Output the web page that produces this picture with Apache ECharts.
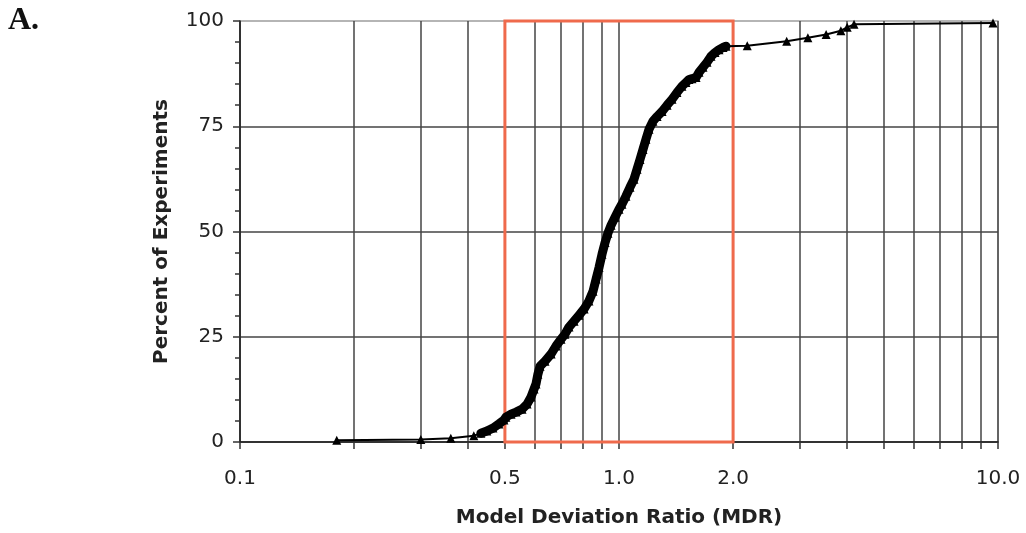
<!DOCTYPE html>
<html>
<head>
<meta charset="utf-8">
<script src="https://cdn.jsdelivr.net/npm/echarts@6/dist/echarts.min.js"></script>
<style>html,body{margin:0;padding:0;background:#fff}#c{width:1026px;height:533px}</style>
</head>
<body>
<div id="c"></div>
<script>
// Left tail (sparse triangles)
const leftMdr = [0.18, 0.30, 0.36, 0.414];
const leftPct = [0.4, 0.6, 0.9, 1.5];
// Dense core of the cumulative curve
const coreMdr = [0.432,0.448,0.465,0.482,0.497,0.503,0.519,0.535,0.555,0.572,0.586,0.597,0.604,0.611,0.619,0.638,0.662,0.682,0.703,0.720,0.738,0.761,0.784,0.809,0.833,0.854,0.870,0.886,0.902,0.919,0.935,0.953,0.976,1.000,1.018,1.043,1.069,1.095,1.116,1.136,1.157,1.178,1.200,1.229,1.260,1.299,1.339,1.380,1.422,1.466,1.502,1.530,1.558,1.597,1.626,1.666,1.707,1.749,1.792,1.836,1.881,1.916];
const corePct = [2.1,2.6,3.3,4.3,5.2,5.9,6.6,7.1,7.8,9.0,10.7,12.6,13.8,16.1,18.0,19.2,20.9,22.8,24.4,25.6,27.3,28.7,30.1,31.6,33.5,35.8,38.7,41.5,44.6,47.4,49.6,51.5,53.4,55.3,56.5,58.4,60.5,62.4,64.8,67.1,69.5,71.9,74.3,76.2,77.3,78.5,80.0,81.4,83.0,84.5,85.4,86.1,86.3,86.6,87.8,89.0,90.2,91.6,92.5,93.2,93.7,94.0];
// Right tail (sparse triangles)
const rightMdr = [2.18, 2.77, 3.15, 3.52, 3.85, 4.0, 4.17, 9.7];
const rightPct = [94.1, 95.2, 96.0, 96.8, 97.7, 98.5, 99.2, 99.5];

const xTickValues = [0.1,0.2,0.3,0.4,0.5,0.6,0.7,0.8,0.9,1,2,3,4,5,6,7,8,9,10];
const xLabelValues = [0.1,0.5,1,2,10];
const boxRange = {x: [0.5, 2.0], y: [0, 100]};

const pair = (xs, ys) => xs.map((x, i) => [x, ys[i]]);
const allData = pair(leftMdr, leftPct).concat(pair(coreMdr, corePct), pair(rightMdr, rightPct));
const coreData = pair(coreMdr, corePct);

const FONT = 'DejaVu Sans';
const chart = echarts.init(document.getElementById('c'));
chart.setOption({
  animation: false,
  backgroundColor: '#fff',
  title: {
    text: 'A.', left: 3, top: 0,
    textStyle: {fontFamily: 'Liberation Serif', fontWeight: 'bold', fontSize: 32, color: '#111'}
  },
  grid: {left: 240, right: 28, top: 21, bottom: 90, show: true, borderColor: '#b0b0b0', borderWidth: 1.5},
  xAxis: {
    type: 'log', logBase: 10, min: 0.1, max: 10,
    name: 'Model Deviation Ratio (MDR)', nameLocation: 'middle', nameGap: 66,
    nameTextStyle: {fontFamily: FONT, fontWeight: 'bold', fontSize: 20, color: '#222'},
    axisLine: {show: true, lineStyle: {color: '#222', width: 1.5}},
    axisTick: {show: true, length: 7, customValues: xTickValues, lineStyle: {color: '#333', width: 1.5}},
    axisLabel: {
      customValues: xLabelValues, margin: 27,
      fontFamily: FONT, fontSize: 20, color: '#222',
      formatter: v => Number(v).toFixed(1)
    },
    splitLine: {show: true, lineStyle: {color: '#444', width: 1.5}},
    minorTick: {show: false}, minorSplitLine: {show: false}
  },
  yAxis: {
    type: 'value', min: 0, max: 100, interval: 25,
    name: 'Percent of Experiments', nameLocation: 'middle', nameGap: 68, nameRotate: 90,
    nameTextStyle: {fontFamily: FONT, fontWeight: 'bold', fontSize: 20, color: '#222'},
    axisLine: {show: true, lineStyle: {color: '#222', width: 1.5}},
    axisTick: {show: true, length: 7, lineStyle: {color: '#333', width: 1.5}},
    minorTick: {show: true, splitNumber: 5, length: 5, lineStyle: {color: '#333', width: 1.5}},
    axisLabel: {margin: 16, fontFamily: FONT, fontSize: 20, color: '#222'},
    splitLine: {show: true, lineStyle: {color: ['#444', '#444', '#444', '#444', '#b0b0b0'], width: 1.5}}
  },
  series: [
    {
      type: 'line', data: allData, symbol: 'triangle', symbolSize: 9,
      itemStyle: {color: '#000'}, lineStyle: {color: '#000', width: 2},
      z: 5,
      markArea: {
        silent: true,
        itemStyle: {color: 'rgba(0,0,0,0)', borderColor: '#ef6a4c', borderWidth: 3},
        data: [[{xAxis: boxRange.x[0], yAxis: boxRange.y[0]}, {xAxis: boxRange.x[1], yAxis: boxRange.y[1]}]]
      }
    },
    {
      type: 'line', data: coreData, symbol: 'none',
      lineStyle: {color: '#000', width: 9, join: 'round', cap: 'round'},
      z: 6
    }
  ]
});
</script>
</body>
</html>
